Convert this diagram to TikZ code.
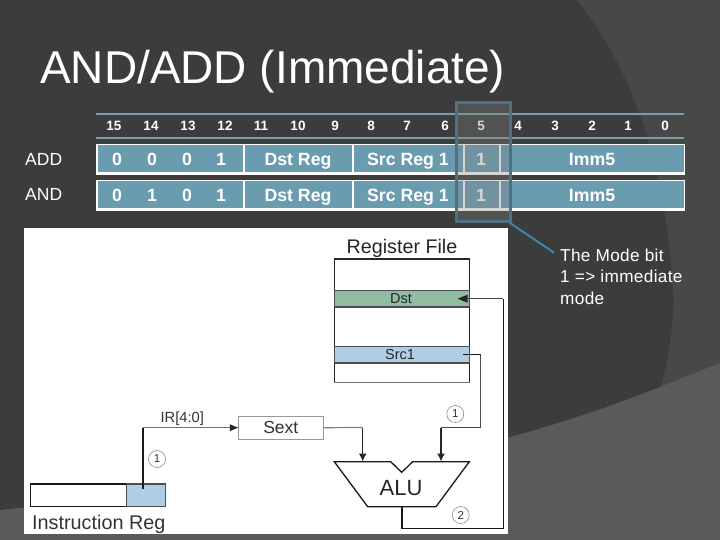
\documentclass[tikz,border=0pt]{standalone}
\usepackage{fontspec}
\setmainfont{Liberation Sans}
\usetikzlibrary{arrows.meta,calc}
\definecolor{bgd}{HTML}{3C3C3C}
\definecolor{bgl}{HTML}{484848}
\definecolor{bgm}{HTML}{5A5A5A}
\definecolor{fieldc}{HTML}{6A9CB0}
\definecolor{rulec}{HTML}{7C9DAB}
\definecolor{modec}{HTML}{4F7283}
\definecolor{greenc}{HTML}{90BDA2}
\definecolor{bluec}{HTML}{B0CDE6}
\definecolor{leadc}{HTML}{3A87A8}
\tikzset{
  x=1pt,y=-1pt,
  hdr/.style={text=white,font=\fontsize{13.5}{15}\selectfont\bfseries,inner sep=0pt},
  bitv/.style={text=white,anchor=base,font=\fontsize{17.7}{19}\selectfont\bfseries,inner sep=0pt},
  rowlab/.style={text=white,font=\fontsize{17.5}{19}\selectfont,inner sep=0pt},
  wire/.style={draw=black!85,line width=1.4pt},
  wirea/.style={wire,-{Latex[length=8pt,width=8pt]}},
  reglab/.style={text=black!85,inner sep=0pt,font=\fontsize{14.5}{16}\selectfont},
  circ/.style={circle,draw=black!45,line width=.6pt,inner sep=0pt,minimum size=17pt,font=\fontsize{11.5}{12}\selectfont,text=black!80},
}
\begin{document}
\begin{tikzpicture}
\useasboundingbox (0,0) rectangle (720,540);
\fill[bgd] (0,0) rectangle (720,540);
\fill[bgl] (577,0) .. controls (625,60) and (665,150) .. (673,290) .. controls (675,325) and (668,360) .. (660,390) -- (720,390) -- (720,0) -- cycle;
\fill[bgm] (0,510) .. controls (180,490) and (400,490) .. (660,387) -- (720,363) -- (720,540) -- (0,540) -- cycle;
% title
\node[text=white,anchor=base west,inner sep=0pt,font=\fontsize{46}{50}\selectfont] (title) at (40,84) {AND/ADD (Immediate)};
% header rules
\coordinate (r1a) at (96,114); \coordinate (r1b) at (684,114);
\coordinate (r2a) at (96,138); \coordinate (r2b) at (684,138);
\draw[rulec,line width=2.2pt] (r1a) -- (r1b);
\draw[rulec,line width=2.2pt] (r2a) -- (r2b);
\foreach \t/\x in {15/114,14/151,13/188,12/225,11/261,10/298,9/335,8/371,7/407,6/445,5/481,4/518,3/555,2/592,1/628,0/665}
  \node[hdr] (h\t) at (\x,126) {\t};
% rows
\node[rowlab,anchor=base west] (add) at (25,166) {ADD};
\node[rowlab,anchor=base west] (and) at (25,201) {AND};
\foreach \y/\n/\a/\b/\c/\d in {144/a/0/0/0/1,180/b/0/1/0/1}{
  \fill[white] (96,\y) rectangle (685,\y+31.5);
  \fill[fieldc] (98,\y+1.5) rectangle (683.5,\y+28);
  \draw[white,line width=2pt] (243.5,\y) -- (243.5,\y+29);
  \draw[white,line width=2pt] (353,\y) -- (353,\y+29);
  \draw[white,line width=2pt] (464,\y) -- (464,\y+29);
  \draw[white,line width=2pt] (500,\y) -- (500,\y+29);
  \node[bitv] (\n15) at (117,\y+22) {\a};
  \node[bitv] (\n14) at (152,\y+22) {\b};
  \node[bitv] (\n13) at (187,\y+22) {\c};
  \node[bitv] (\n12) at (221,\y+22) {\d};
  \node[bitv] (\n11) at (298,\y+22) {Dst Reg};
  \node[bitv] (\n8) at (408,\y+22) {Src Reg 1};
  \node[bitv] (\n5) at (481,\y+22) {1};
  \node[bitv] (\n4) at (592,\y+22) {Imm5};
}
% mode overlay
\fill[black!50,opacity=.33] (456.5,103) rectangle (510.5,222);
\draw[modec,line width=3pt] (456.5,103) rectangle (510.5,222);
\coordinate (lead) at (510,223);
\coordinate (leadend) at (553,252);
\draw[leadc,line width=2pt] (lead) -- (leadend);
\fill[leadc] (leadend) circle (1.6pt);
\node[text=white,anchor=north west,inner sep=0pt,align=left,font=\fontsize{17.2}{21.3}\selectfont\addfontfeature{LetterSpace=2}] (modetxt) at (560,249) {The Mode bit\\1 => immediate\\mode};
% picture
\fill[white] (24,228.5) rectangle (508,533.5);
% register file
\node[anchor=base,inner sep=0pt,text=black!85,font=\fontsize{19.7}{21}\selectfont] (rf) at (402,254) {Register File};
\draw[black!85,line width=1.4pt,fill=white] (334.3,259) rectangle (469.7,382.5);
\draw[black!70,line width=1.4pt,fill=greenc] (334.3,290.3) rectangle (469.7,307);
\draw[black!70,line width=1.4pt,fill=bluec] (334.3,346.3) rectangle (469.7,363);
\draw[black!55,line width=1.6pt] (334.3,382.5) -- (469.7,382.5);
\node[reglab] (dst) at (401,299) {Dst};
\node[reglab] (src) at (400,355) {Src1};
% sext
\node[draw=black!40,line width=1pt,fill=white,minimum width=85pt,minimum height=23pt,inner sep=0pt,text=black!80,font=\fontsize{17.5}{19}\selectfont] (sext) at (280.8,427.7) {Sext};
\node[anchor=base,inner sep=0pt,text=black!80,font=\fontsize{14.7}{16}\selectfont] (irl) at (182.3,422.7) {IR[4:0]};
% instruction reg
\draw[black!90,line width=1.3pt,fill=white] (30.7,484) rectangle (126.7,506.7);
\draw[black!70,line width=1.3pt,fill=bluec] (126.7,484) rectangle (165.7,506.7);
\node[anchor=base west,inner sep=0pt,text=black!80,font=\fontsize{19.8}{21}\selectfont] (irt) at (32,529) {Instruction Reg};
\coordinate (irtap) at (142.7,489.3);
\coordinate (ircorner) at (142.7,427.7);
\draw[black!90,line width=1.6pt] (irtap) -- (ircorner);
\draw[draw=black!55,line width=1.2pt] (ircorner) -- (sext.west);
\fill[black!85] (sext.west) -- ++(-8,-3.5) -- ++(0,7) -- cycle;
\node[circ] (c1) at (157,459) {1};
% ALU
\draw[black!90,line width=1.3pt,fill=white] (334.3,461.7) -- (390.7,461.7) -- (401.7,472.3) -- (412.7,461.7) -- (469.3,461.7) -- (436,506.7) -- (367.7,506.7) -- cycle;
\coordinate (alutop1) at (362.7,461.5);
\coordinate (alutop2) at (441,461.5);
\coordinate (aluout) at (402,506.7);
\node[anchor=base,inner sep=0pt,text=black!85,font=\fontsize{22}{24}\selectfont] (alu) at (401,495) {ALU};
% connectors
\coordinate (s1) at (362.7,427.5);
\draw[draw=black!50,line width=1.2pt] (sext.east) -- (s1);
\draw[wirea] (s1) -- (alutop1);
\coordinate (srcout) at (463,354.7);
\coordinate (srcc) at (480.7,354.7);
\coordinate (srcd) at (480.7,427.5);
\coordinate (srce) at (441,427.5);
\draw[black!90,line width=1.4pt] (srcout) -- (srcc);
\draw[black!70,line width=1.2pt] (srcc) -- (srcd) -- (srce);
\draw[wirea] (srce) -- (alutop2);
\node[circ] (c2) at (455.3,414) {1};
\coordinate (o1) at (402,528.7);
\coordinate (o2) at (503.3,528.7);
\coordinate (o3) at (503.3,298.7);
\coordinate (o4) at (467,298.7);
\draw[black!90,line width=1.3pt] (aluout) -- (o1) -- (o2) -- (o3);
\draw[black!70,line width=1.2pt] (o3) -- (o4);
\fill[black!85] (457.7,298.7) -- (467.5,294.7) -- (467.5,302.7) -- cycle;
\node[circ] (c3) at (460.7,515) {2};
\end{tikzpicture}
\end{document}
